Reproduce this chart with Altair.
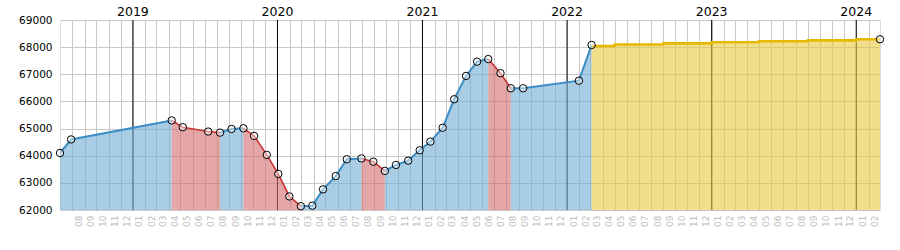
import altair as alt
import pandas as pd

# ---- data ----
dates = [
    "2018-07-01", "2018-07-29", "2019-04-09", "2019-05-07", "2019-07-10",
    "2019-08-09", "2019-09-07", "2019-10-07", "2019-11-03", "2019-12-05",
    "2020-01-03", "2020-01-31", "2020-02-29", "2020-03-29", "2020-04-25",
    "2020-05-27", "2020-06-24", "2020-07-31", "2020-08-30", "2020-09-28",
    "2020-10-26", "2020-11-26", "2020-12-25", "2021-01-21", "2021-02-21",
    "2021-03-22", "2021-04-21", "2021-05-19", "2021-06-16", "2021-07-17",
    "2021-08-12", "2021-09-12", "2022-01-31", "2022-03-04",
]
values = [
    64100, 64600, 65300, 65050, 64890,
    64850, 64985, 65010, 64730, 64030,
    63330, 62500, 62140, 62160, 62760,
    63250, 63870, 63900, 63780, 63440,
    63660, 63820, 64200, 64520, 65030,
    66080, 66940, 67465, 67560, 67040,
    66484, 66484, 66764, 68080,
]
fc_dates = ["2022-03-04", "2022-05-01", "2022-09-01", "2023-01-01",
            "2023-05-01", "2023-09-01", "2024-01-01", "2024-03-01"]
fc_values = [68040, 68100, 68140, 68180, 68215, 68250, 68290, 68290]

year_dates = ["2019-01-01", "2020-01-01", "2021-01-01", "2022-01-01",
              "2023-01-01", "2024-01-01"]
year_labels = ["2019", "2020", "2021", "2022", "2023", "2024"]
y_ticks = [62000, 63000, 64000, 65000, 66000, 67000, 68000, 69000]
x_start, x_end = "2018-07-01", "2024-03-01"
first_month_tick, last_month_tick = "2018-08-01", "2024-02-01"


def ms(s):
    return int(pd.Timestamp(s, tz="UTC").timestamp() * 1000)


month_ticks = [int(t.timestamp() * 1000) for t in
               pd.date_range(first_month_tick, last_month_tick, freq="MS", tz="UTC")]

# ---- runs of rising / falling segments ----
rows = []
run = 0
prev = None
for i in range(len(dates) - 1):
    d = "down" if values[i + 1] < values[i] else "up"
    if d != prev:
        run += 1
        rows.append({"run": run, "dir": d, "date": dates[i], "value": values[i]})
        prev = d
    rows.append({"run": run, "dir": d, "date": dates[i + 1], "value": values[i + 1]})
seg_df = pd.DataFrame(rows)

fc_df = pd.DataFrame({"date": fc_dates, "value": fc_values})
pts_df = pd.DataFrame({"date": dates + [fc_dates[-1]], "value": values + [fc_values[-1]]})
yr_df = pd.DataFrame({"date": year_dates, "label": year_labels})

x_axis = alt.Axis(values=month_ticks, title=None, grid=True, gridColor="#c8c8c8",
                  gridWidth=1, ticks=False, domain=False,
                  labelExpr="utcFormat(datum.value, '%m')", labelAngle=270,
                  labelAlign="right", labelBaseline="middle", labelOffset=6,
                  labelPadding=5, labelColor="#bdbdbd", labelFontSize=9,
                  labelFlush=False, labelOverlap=False)
y_axis = alt.Axis(values=y_ticks, title=None, grid=True, gridColor="#c8c8c8",
                  ticks=False, domain=False, format="d", labelPadding=8,
                  labelFontSize=10.5, labelColor="#000000", labelFlush=False)

x_scale = alt.Scale(type="utc", domain=[ms(x_start), ms(x_end)])
y_scale = alt.Scale(domain=[y_ticks[0], y_ticks[-1]], zero=False)

X = alt.X("date:T", scale=x_scale, axis=x_axis)
Y = alt.Y("value:Q", scale=y_scale, axis=y_axis)
base_y = alt.datum(y_ticks[0])

year_rules = alt.Chart(yr_df).mark_rule(color="#000000", strokeWidth=1).encode(x=X)

segs = alt.Chart(seg_df)
area_up = segs.transform_filter("datum.dir == 'up'").mark_area(
    color="#6eacd2", opacity=0.6, clip=True).encode(x=X, y=Y, y2=base_y, detail="run:N")
area_dn = segs.transform_filter("datum.dir == 'down'").mark_area(
    color="#d26b6b", opacity=0.6, clip=True).encode(x=X, y=Y, y2=base_y, detail="run:N")
line_up = segs.transform_filter("datum.dir == 'up'").mark_line(
    color="#3a8dc5", strokeWidth=2).encode(x=X, y=Y, detail="run:N")
line_dn = segs.transform_filter("datum.dir == 'down'").mark_line(
    color="#cc3333", strokeWidth=1.6).encode(x=X, y=Y, detail="run:N")

fc = alt.Chart(fc_df)
fc_area = fc.mark_area(interpolate="step-after", color="#e9ca3f", opacity=0.6,
                       clip=True).encode(x=X, y=Y, y2=base_y)
fc_line = fc.mark_line(interpolate="step-after", color="#e6b800",
                       strokeWidth=2.6).encode(x=X, y=Y)

points = alt.Chart(pts_df).mark_point(shape="circle", size=55, filled=True,
                                      fill="#ffffff", fillOpacity=0.45,
                                      stroke="#000000", strokeWidth=1,
                                      opacity=1).encode(x=X, y=Y)

year_text = alt.Chart(yr_df).mark_text(fontSize=12.5, color="#000000",
                                       align="center", baseline="alphabetic").encode(
    x=X, y=alt.value(-4), text="label:N")

chart = alt.layer(
    year_rules, area_up, area_dn, fc_area, line_up, line_dn, fc_line, points, year_text
).properties(
    width=820, height=190,
    autosize=alt.AutoSizeParams(type="none"),
    padding={"left": 60, "top": 20, "right": 20, "bottom": 40},
).configure_view(stroke="#c0c0c0").configure(font="DejaVu Sans")

chart.save("out.html", embed_options={"renderer": "svg", "actions": False})
